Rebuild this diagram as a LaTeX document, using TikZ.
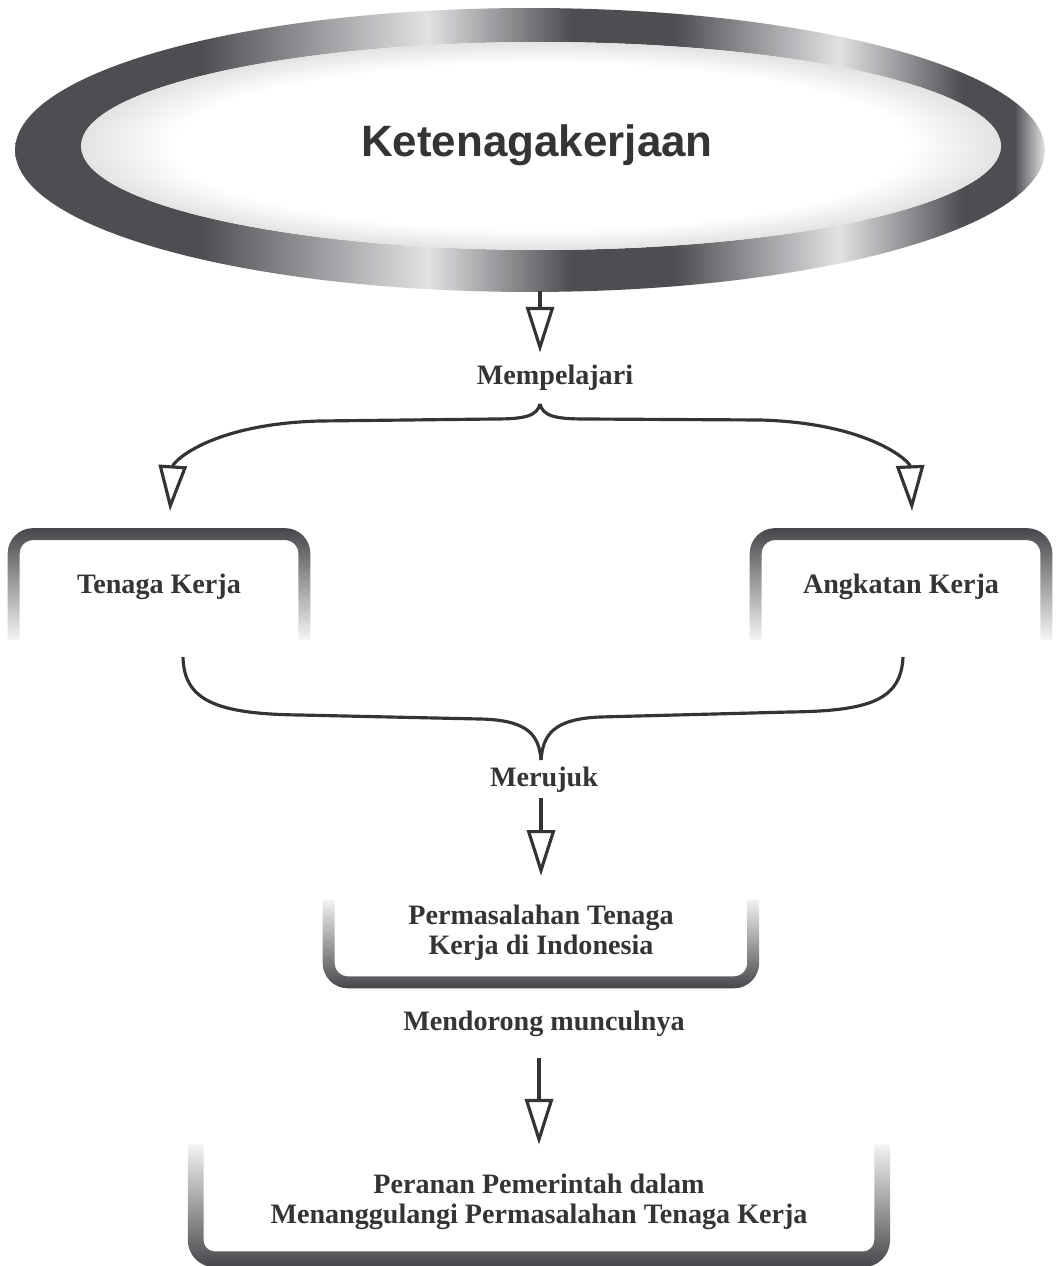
\documentclass[tikz,border=0pt]{standalone}
\usepackage{fontspec}
\setmainfont{Liberation Serif}
\newfontfamily\titlefont{Liberation Sans}
\usetikzlibrary{arrows.meta,fadings,calc}
\definecolor{ringdark}{RGB}{78,78,82}
\definecolor{ringlight}{RGB}{226,226,229}
\definecolor{framegray}{RGB}{72,70,74}
\definecolor{inkgray}{RGB}{52,52,54}
\pgfdeclarehorizontalshading{ringshade}{100bp}{%
  color(0bp)=(ringdark); color(25bp)=(ringdark); color(34bp)=(ringdark);
  color(45bp)=(ringlight); color(52bp)=(ringdark); color(57bp)=(ringdark);
  color(65bp)=(ringlight); color(71bp)=(ringdark); color(73.5bp)=(ringdark);
  color(75bp)=(ringlight); color(100bp)=(ringlight)}
\pgfdeclareradialshading{innerglow}{\pgfpoint{0bp}{0bp}}{%
  color(0bp)=(white); color(20bp)=(white); color(25bp)=(gray!22); color(50bp)=(gray!22)}
\tikzfading[name=fadetop, top color=transparent!0, middle color=transparent!45, bottom color=transparent!100]
\tikzfading[name=fadebottom, top color=transparent!100, middle color=transparent!40, bottom color=transparent!0]
\tikzset{
  lbl/.style      = {font=\fontsize{16}{17}\selectfont\bfseries, text=inkgray, inner sep=0pt, align=center},
  titlelbl/.style = {font=\titlefont\fontsize{25}{28}\selectfont\bfseries, text=inkgray},
  arr/.style      = {draw=inkgray, line width=1.8pt,
                     -{Triangle[open, length=26pt, width=16pt, line width=1.8pt]}},
  brace/.style    = {draw=inkgray, line width=1.8pt},
  frametop/.style = {draw=framegray, line width=6.8pt, rounded corners=11pt, path fading=fadetop},
  framebot/.style = {draw=framegray, line width=6.8pt, rounded corners=11pt, path fading=fadebottom},
  framewide/.style= {framebot, line width=9pt}
}
\begin{document}
\begin{tikzpicture}[x=0.02cm, y=-0.02cm]
  \fill[white] (0,0) rectangle (1055,1266);
  \useasboundingbox (0,0) rectangle (1055,1266);

  \shade[shading=ringshade, even odd rule]
    (530,150) ellipse [x radius=10.3cm, y radius=2.84cm]
    (541,146) ellipse [x radius=9.2cm, y radius=2.08cm];
  \shade[shading=innerglow] (541,146) ellipse [x radius=9.2cm, y radius=2.08cm];
  \node[titlelbl] (ttl) at (537,145) {Ketenagakerjaan};
  \coordinate (ringbot) at (540,291);

  \node[lbl] (mp) at (555,378) {Mempelajari};
  \node[lbl, minimum width=5.8cm, minimum height=2.1cm] (tk) at (159,587) {Tenaga Kerja};
  \node[lbl, minimum width=5.8cm, minimum height=2.1cm] (ak) at (901,587) {Angkatan Kerja};
  \node[lbl] (mr) at (544,780) {Merujuk};
  \node[lbl, minimum width=8.48cm, minimum height=1.32cm] (pm) at (541,933)
       {Permasalahan Tenaga\\Kerja di Indonesia};
  \node[lbl] (md) at (544,1024) {Mendorong munculnya};
  \node[lbl, minimum width=13.72cm, minimum height=2.28cm] (pp) at (539,1202)
       {Peranan Pemerintah dalam\\Menanggulangi Permasalahan Tenaga Kerja};

  \draw[frametop] (tk.south west) -- (tk.north west) -- (tk.north east) -- (tk.south east);
  \draw[frametop] (ak.south west) -- (ak.north west) -- (ak.north east) -- (ak.south east);
  \draw[framebot] (pm.north west) -- ([yshift=-0.32cm]pm.south west)
                  -- ([yshift=-0.32cm]pm.south east) -- (pm.north east);
  \draw[framewide] (pp.north west) -- (pp.south west) -- (pp.south east) -- (pp.north east);

  \coordinate (brtop) at (540,404);
  \coordinate (tktip) at (170,511);
  \coordinate (aktip) at (912,511);
  \coordinate (tkend) at (183,657);
  \coordinate (akend) at (903,657);
  \coordinate (brbot) at (541,760);

  \draw[arr, shorten >=7pt] (ringbot) -- (ringbot |- mp.north);
  \draw[arr] (brtop) .. controls (537,416) and (525,419) .. (495,419) -- (320,421)
        .. controls (210,424) and (173,462) .. (tktip);
  \draw[arr] (brtop) .. controls (543,416) and (555,419) .. (585,419) -- (760,420)
        .. controls (870,423) and (910,462) .. (aktip);
  \draw[brace] (tkend) .. controls (184,700) and (215,714) .. (300,715) -- (480,719)
        .. controls (528,720) and (539,735) .. (brbot);
  \draw[brace] (akend) .. controls (901,700) and (870,711) .. (790,712) -- (600,717)
        .. controls (553,719) and (543,735) .. (brbot);
  \draw[arr, shorten <=3pt, shorten >=13.6pt] (mr.south -| pm.north) -- (pm.north);
  \draw[arr, shorten <=12pt] (md.south -| pp.north) -- (pp.north);
\end{tikzpicture}
\end{document}
